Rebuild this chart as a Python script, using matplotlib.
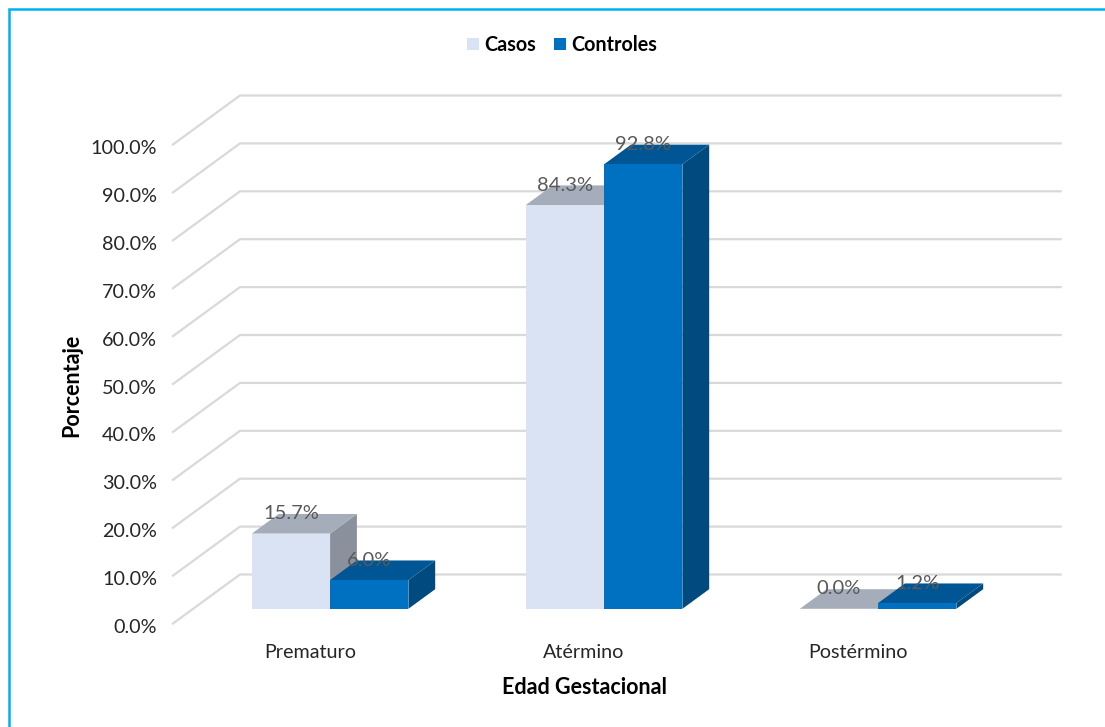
import matplotlib
matplotlib.use("Agg")
import matplotlib.pyplot as plt
from matplotlib.lines import Line2D
from matplotlib.patches import Patch, Polygon
from matplotlib.transforms import ScaledTranslation

plt.rcParams["font.family"] = ["Lato", "DejaVu Sans"]

categories = ["Prematuro", "Atérmino", "Postérmino"]
casos = [15.7, 84.3, 0.0]
controles = [6.0, 92.8, 1.2]
y_ticks = [0, 10, 20, 30, 40, 50, 60, 70, 80, 90, 100]

W, H = 1105, 727
BAR_W = 1 / 3.5

# oblique projection: depth 0 is the front edge of the floor, depth 1 the back wall
DX = 67 / 274
DY = 49 / 4.79
BAR_D0, BAR_D1 = 0.30, 0.70


def proj(x, y, d):
    return x + DX * d, y + DY * d


def draw_bar(ax, x0, val, front, top, side):
    x1 = x0 + BAR_W
    z = 3
    # front face
    f = [proj(x0, 0, BAR_D0), proj(x1, 0, BAR_D0), proj(x1, val, BAR_D0), proj(x0, val, BAR_D0)]
    t = [proj(x0, val, BAR_D0), proj(x1, val, BAR_D0), proj(x1, val, BAR_D1), proj(x0, val, BAR_D1)]
    s = [proj(x1, 0, BAR_D0), proj(x1, 0, BAR_D1), proj(x1, val, BAR_D1), proj(x1, val, BAR_D0)]
    ax.add_patch(Polygon(s, closed=True, fc=side, ec="none", zorder=z, clip_on=False))
    ax.add_patch(Polygon(t, closed=True, fc=top, ec="none", zorder=z, clip_on=False))
    ax.add_patch(Polygon(f, closed=True, fc=front, ec="none", zorder=z, clip_on=False))
    lx, ly = proj(x0 + BAR_W / 2, val, BAR_D0)
    ax.annotate(f"{val:.1f}%", (lx, ly), xytext=(0, 20), textcoords="offset pixels",
                ha="center", va="center", fontsize=14.5, color="#595959", zorder=5,
                annotation_clip=False)


fig = plt.figure(figsize=(W / 100, H / 100), dpi=100, facecolor="white")
# front plane of the plot box, pixels measured from the top left
ax = fig.add_axes([173 / W, 1 - 623.5 / H, 822 / W, 479 / H])
ax.set_xlim(-0.5, 2.5)
ax.set_ylim(0, 100)
ax.patch.set_visible(False)
for sp in ax.spines.values():
    sp.set_visible(False)

# gridlines run along the side wall, then across the back wall
for v in y_ticks:
    bx, by = proj(-0.5, v, 1)
    ax.plot([-0.5, bx, bx + 2.995], [v, by, by], color="#d9d9d9", lw=1.6, zorder=1,
            clip_on=False, solid_joinstyle="miter")

for i in range(len(categories)):
    draw_bar(ax, i - BAR_W, casos[i], "#DAE3F3", "#A5ADBB", "#8A919C")
    draw_bar(ax, i, controles[i], "#0070C0", "#005694", "#004A80")

ax.set_yticks(y_ticks)
ax.set_yticklabels([f"{v:.1f}%" for v in y_ticks], fontsize=14.2, color="#262626")
ax.set_xticks(range(len(categories)))
ax.set_xticklabels(categories, fontsize=14.2, color="#262626")
ax.tick_params(axis="both", length=0)
ax.tick_params(axis="y", pad=11.5)
ax.tick_params(axis="x", pad=14.5)

# the value labels on the axis sit a little under their gridline
shift = ScaledTranslation(0, -2.5 / 100, fig.dpi_scale_trans)
for lab in ax.get_yticklabels():
    lab.set_transform(lab.get_transform() + shift)

fig.text(72 / W, 1 - 385 / H, "Porcentaje", rotation=90, ha="center", va="center",
         fontsize=15.5, fontweight="bold", color="black")
fig.text(584 / W, 1 - 687 / H, "Edad Gestacional", ha="center", va="center",
         fontsize=15.5, fontweight="bold", color="black")

handles = [Patch(fc="#DAE3F3", ec="none", label="Casos"), Patch(fc="#0070C0", ec="none", label="Controles")]
fig.legend(handles=handles, loc="center", bbox_to_anchor=(562 / W, 1 - 45 / H), ncol=2, frameon=False,
           prop={"size": 14.2, "weight": "bold"}, handlelength=0.62, handleheight=0.62,
           handletextpad=0.27, columnspacing=0.9)

# chart frame: only the top and left edges fall inside the image
fig.add_artist(Line2D([9 / W, 9 / W, 1], [0, 1 - 9 / H, 1 - 9 / H], transform=fig.transFigure,
                      color="#00B0F0", lw=1.8, solid_joinstyle="miter"))

fig.savefig("out.png", dpi=100)
